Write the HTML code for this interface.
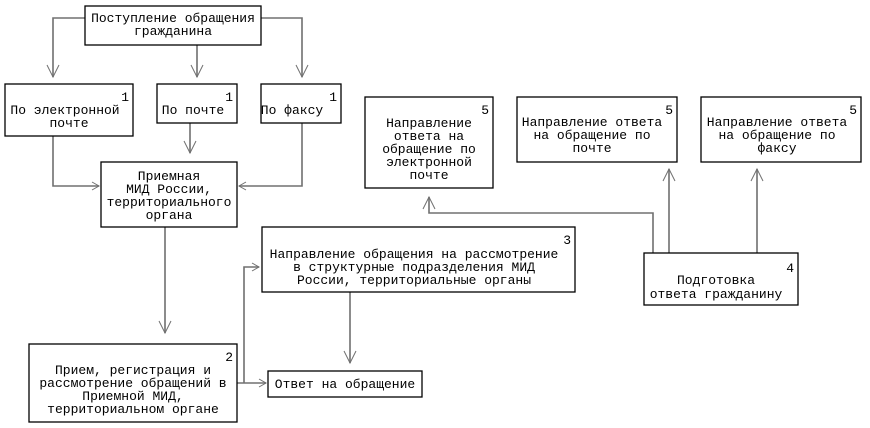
<!DOCTYPE html>
<html><head><meta charset="utf-8"><style>
html,body{margin:0;padding:0;background:#fff;}
svg{display:block;}
text{font-family:"Liberation Mono","DejaVu Sans Mono",monospace;font-size:13px;fill:#000;}
.b{fill:#fff;stroke:#000;stroke-width:1.3;}
.l{fill:none;stroke:#707070;stroke-width:1.6;}
.a{fill:none;stroke:#707070;stroke-width:1;}
</style></head><body>
<svg width="870" height="428" viewBox="0 0 870 428">
<!-- connectors -->
<path class="l" d="M85 18 H53 V77"/>
<path class="l" d="M197 45 V77"/>
<path class="l" d="M261 18 H302 V77"/>
<path class="l" d="M190 123 V153"/>
<path class="l" d="M53 136 V186 H99"/>
<path class="l" d="M302 123 V186 H239"/>
<path class="l" d="M165 227 V333"/>
<path class="l" d="M237 383 H266 M244 383 V267 H259"/>
<path class="l" d="M350 292 V363"/>
<path class="l" d="M653 253 V213 H429 V197"/>
<path class="l" d="M669 253 V169"/>
<path class="l" d="M757 253 V169"/>
<!-- arrowheads -->
<path class="a" d="M47 65 L53 77 L59 65"/>
<path class="a" d="M191 65 L197 77 L203 65"/>
<path class="a" d="M296 65 L302 77 L308 65"/>
<path class="a" d="M184 141 L190 153 L196 141"/>
<path class="a" d="M159 321 L165 333 L171 321"/>
<path class="a" d="M344 351 L350 363 L356 351"/>
<path class="a" d="M92 182 L99 186 L92 190"/>
<path class="a" d="M246 182 L239 186 L246 190"/>
<path class="a" d="M259 379 L266 383 L259 387"/>
<path class="a" d="M252 263 L259 267 L252 271"/>
<path class="a" d="M423 209 L429 197 L435 209"/>
<path class="a" d="M663 181 L669 169 L675 181"/>
<path class="a" d="M751 181 L757 169 L763 181"/>
<!-- boxes -->
<rect class="b" x="85" y="6" width="176" height="39"/>
<rect class="b" x="5" y="84" width="128" height="52"/>
<rect class="b" x="157" y="84" width="80" height="39"/>
<rect class="b" x="261" y="84" width="80" height="39"/>
<rect class="b" x="101" y="162" width="136" height="65"/>
<rect class="b" x="262" y="227" width="313" height="65"/>
<rect class="b" x="29" y="344" width="208" height="78"/>
<rect class="b" x="268" y="371" width="154" height="26"/>
<rect class="b" x="365" y="97" width="128" height="91"/>
<rect class="b" x="517" y="97" width="160" height="65"/>
<rect class="b" x="701" y="97" width="160" height="65"/>
<rect class="b" x="644" y="253" width="154" height="52"/>
<!-- text -->
<g text-anchor="middle">
<text x="173" y="22">Поступление обращения</text>
<text x="173" y="35">гражданина</text>
<text x="65" y="114">По электронной</text>
<text x="69" y="127">почте</text>
<text x="193" y="114">По почте</text>
<text x="292" y="114">По факсу</text>
<text x="169" y="180">Приемная</text>
<text x="169" y="193">МИД России,</text>
<text x="169" y="206">территориального</text>
<text x="169" y="219">органа</text>
<text x="414" y="258">Направление обращения на рассмотрение</text>
<text x="414" y="271">в структурные подразделения МИД</text>
<text x="414" y="284">России, территориальные органы</text>
<text x="133" y="374">Прием, регистрация и</text>
<text x="133" y="387">рассмотрение обращений в</text>
<text x="133" y="400">Приемной МИД,</text>
<text x="133" y="413">территориальном органе</text>
<text x="345" y="388">Ответ на обращение</text>
<text x="429" y="127">Направление</text>
<text x="429" y="140">ответа на</text>
<text x="429" y="153">обращение по</text>
<text x="429" y="166">электронной</text>
<text x="429" y="179">почте</text>
<text x="592" y="126">Направление ответа</text>
<text x="592" y="139">на обращение по</text>
<text x="592" y="152">почте</text>
<text x="777" y="126">Направление ответа</text>
<text x="777" y="139">на обращение по</text>
<text x="777" y="152">факсу</text>
<text x="716" y="284">Подготовка</text>
<text x="716" y="298">ответа гражданину</text>
</g>
<g text-anchor="end">
<text x="129" y="101">1</text>
<text x="233" y="101">1</text>
<text x="337" y="101">1</text>
<text x="571" y="244">3</text>
<text x="233" y="361">2</text>
<text x="489" y="114">5</text>
<text x="673" y="114">5</text>
<text x="857" y="114">5</text>
<text x="794" y="272">4</text>
</g>
</svg>
</body></html>
